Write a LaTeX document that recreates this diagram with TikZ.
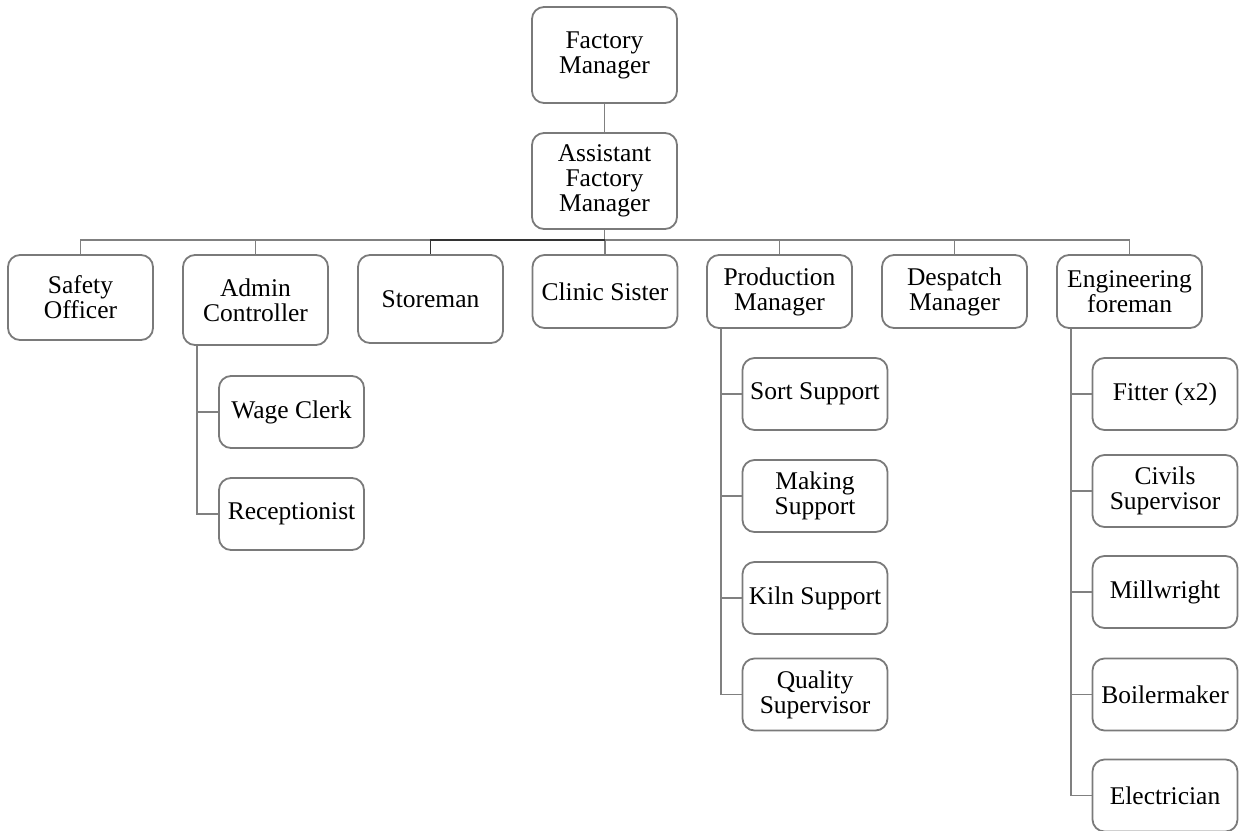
\documentclass[tikz,border=0pt]{standalone}
\usepackage{fontspec}
\setmainfont{Liberation Serif}
\definecolor{boxgray}{HTML}{7A7A7A}
\definecolor{linegray}{HTML}{808080}
\begin{document}
\begin{tikzpicture}[x=1pt,y=-1pt,
  box/.style={draw=boxgray, line width=1.8pt, rounded corners=12pt, fill=white,
    minimum width=145pt, inner sep=0pt, align=center,
    font=\fontsize{25.5}{25}\selectfont},
  conn/.style={draw=linegray, line width=1.8pt}]
\useasboundingbox (0,0) rectangle (1239,830);
\node[box, minimum height=96pt] (fm) at (604.5,55) {Factory\\Manager};
\node[box, minimum height=96pt] (afm) at (604.5,181) {Assistant\\Factory\\Manager};
\node[box, minimum height=85pt] (so) at (80.5,297.5) {Safety\\Officer};
\node[box, minimum height=90pt] (ac) at (255.5,300) {Admin\\Controller};
\node[box, minimum height=88pt] (st) at (430.5,299) {Storeman};
\node[box, minimum height=73pt] (cs) at (605,291.5) {Clinic Sister};
\node[box, minimum height=73pt] (pm) at (779.5,291.5) {Production\\Manager};
\node[box, minimum height=73pt] (dm) at (954.5,291.5) {Despatch\\Manager};
\node[box, minimum height=73pt] (ef) at (1129.5,291.5) {Engineering\\foreman};
\node[box, minimum height=72pt] (wc) at (291.5,412) {Wage Clerk};
\node[box, minimum height=72pt] (rc) at (291.5,514) {Receptionist};
\node[box, minimum height=72pt] (ss) at (815,394) {Sort Support};
\node[box, minimum height=72pt] (ms) at (815,496) {Making\\Support};
\node[box, minimum height=72pt] (ks) at (815,598) {Kiln Support};
\node[box, minimum height=72pt] (qs) at (815,694.5) {Quality\\Supervisor};
\node[box, minimum height=72pt] (fi) at (1165,394) {Fitter (x2)};
\node[box, minimum height=72pt] (cv) at (1165,491) {Civils\\Supervisor};
\node[box, minimum height=72pt] (mw) at (1165,592) {Millwright};
\node[box, minimum height=72pt] (bm) at (1165,694.5) {Boilermaker};
\node[box, minimum height=72pt] (el) at (1165,795.5) {Electrician};
\coordinate (bus) at (604.5,240);
\draw[conn] (fm.south) -- (afm.north);
\draw[conn] (afm.south) -- (bus);
\foreach \n in {so,ac,cs,pm,dm,ef} \draw[conn] (bus) -| (\n.north);
\draw[draw=black!80, line width=1.3pt] (bus) -| (st.north);
\coordinate (acl) at ([xshift=15pt]ac.south west);
\coordinate (pml) at ([xshift=15pt]pm.south west);
\coordinate (efl) at ([xshift=15pt]ef.south west);
\foreach \n in {wc,rc} \draw[conn] (acl) |- (\n.west);
\foreach \n in {ss,ms,ks,qs} \draw[conn] (pml) |- (\n.west);
\foreach \n in {fi,cv,mw,bm,el} \draw[conn] (efl) |- (\n.west);
\end{tikzpicture}
\end{document}
